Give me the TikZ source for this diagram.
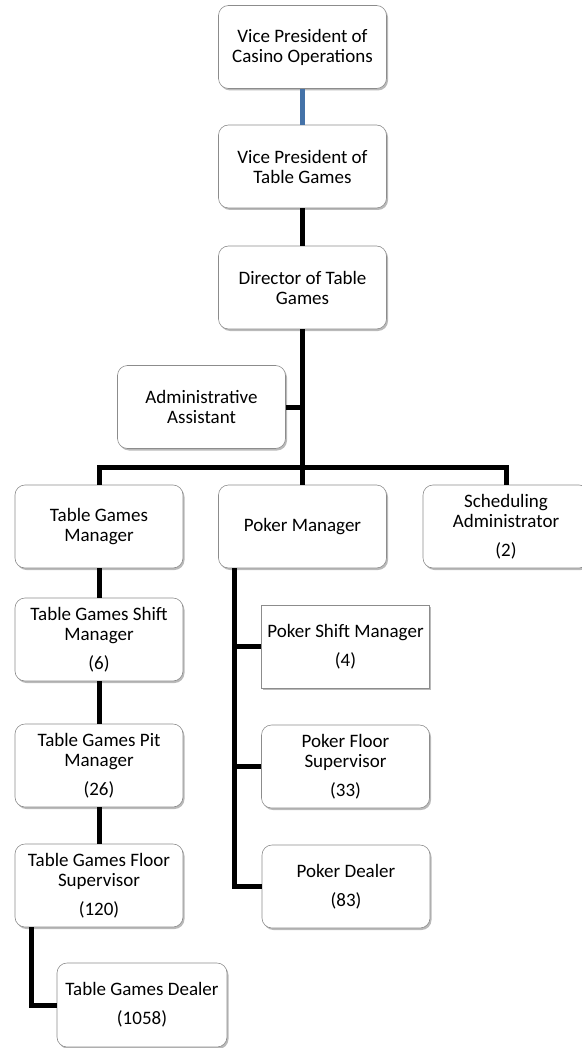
\documentclass[tikz,border=0pt]{standalone}
\usepackage{fontspec}
\setmainfont{Carlito}
\usetikzlibrary{shadows,calc}
\definecolor{linkblue}{RGB}{68,114,168}
\begin{document}
\begin{tikzpicture}[x=1pt,y=-1pt,
    post/.style={draw=black!45, line width=0.6pt, rounded corners=10pt, fill=white, minimum width=168pt, minimum height=83pt, inner sep=0pt, align=center, font=\fontsize{19}{20}\selectfont, drop shadow={shadow xshift=1.5pt, shadow yshift=-2pt, fill=black!60, opacity=.45}},
    sharp/.style={post, rounded corners=0pt},
    link/.style={line width=5pt, black}]
\useasboundingbox (0,0) rectangle (581,1048);
\node[post] (vpco) at (302.5,47) {Vice President of\\Casino Operations};
\node[post] (vptg) at (302.5,166.5) {Vice President of\\Table Games};
\node[post] (dir) at (302.5,287.5) {Director of Table\\Games};
\node[post] (adm) at (201.5,407) {Administrative\\Assistant};
\node[post] (tgm) at (99,526.5) {Table Games\\Manager};
\node[post] (pm) at (302.5,526.5) {Poker Manager};
\node[post, minimum width=166pt] (sched) at (506,526.5) {Scheduling\\Administrator\\[9pt](2)};
\node[post] (tgsm) at (99,639.5) {Table Games Shift\\Manager\\[9pt](6)};
\node[post] (tgpm) at (99,765.5) {Table Games Pit\\Manager\\[9pt](26)};
\node[post] (tgfs) at (99,885.5) {Table Games Floor\\Supervisor\\[9pt](120)};
\node[post, minimum width=170pt, minimum height=84pt] (tgd) at (142,1005) {Table Games Dealer\\[9pt](1058)};
\node[sharp] (psm) at (345.5,646.5) {Poker Shift Manager\\[9pt](4)};
\node[post] (pfs) at (345.5,766.5) {Poker Floor\\Supervisor\\[9pt](33)};
\node[post] (pd) at (346,886.5) {Poker Dealer\\[9pt](83)};
\coordinate (bar) at (302.5,467);
\coordinate (pk) at ([xshift=16pt]pm.south west);
\coordinate (tk) at ([xshift=17pt]tgfs.south west);
\begin{scope}[on background layer/.try]
\draw[line width=5pt, linkblue] (vpco) -- (vptg);
\draw[link] (vptg) -- (dir);
\draw[link] (dir.south) -- (bar) -- (pm.north);
\draw[link] (tgm.north) |- (bar) -| (sched.north);
\draw[link] (adm.east) -- (adm.east -| dir.south);
\draw[link] (tgm) -- (tgsm);
\draw[link] (tgsm) -- (tgpm);
\draw[link] (tgpm) -- (tgfs);
\draw[link] (tk) |- (tgd.west);
\draw[link] (pk) |- (pd.west);
\draw[link] (psm.west) -- (psm.west -| pk);
\draw[link] (pfs.west) -- (pfs.west -| pk);
\end{scope}
\end{tikzpicture}
\end{document}
